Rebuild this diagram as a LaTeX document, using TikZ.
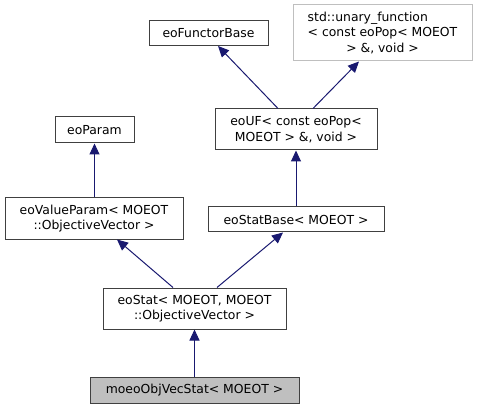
\documentclass[tikz,border=0pt]{standalone}
\usepackage{fontspec}
\setmainfont{DejaVu Sans}
\usetikzlibrary{arrows.meta}
\definecolor{edgec}{HTML}{191970}
\definecolor{boxc}{HTML}{404040}
\definecolor{greyc}{HTML}{BFBFBF}
\tikzset{
  cls/.style={draw=boxc, line width=1pt, fill=white, inner sep=0pt, align=center,
    font=\fontsize{12.4}{15.5}\selectfont},
  inh/.style={draw=edgec, line width=1pt, -{Triangle[length=11pt,width=10pt]}}
}
\begin{document}
\begin{tikzpicture}[x=1pt,y=-1pt]
\useasboundingbox (0,0) rectangle (477,409);
\node[cls, minimum width=119pt, minimum height=25pt] (fb) at (208.5,33) {eoFunctorBase};
\node[cls, draw=greyc, minimum width=179pt, minimum height=56pt] (uf1) at (382.5,33)
  {\rlap{std::unary\_function}\phantom{< const eoPop< MOEOT}\\< const eoPop< MOEOT\\> \&, void >};
\node[cls, minimum width=79pt, minimum height=26pt] (par) at (94.5,130) {eoParam};
\node[cls, minimum width=162pt, minimum height=41pt] (uf) at (296,129.5) {eoUF< const eoPop<\\MOEOT > \&, void >};
\node[cls, minimum width=178pt, minimum height=41pt] (vp) at (94,218.5) {eoValueParam< MOEOT\\::ObjectiveVector >};
\node[cls, minimum width=176pt, minimum height=25pt] (sb) at (296,219.5) {eoStatBase< MOEOT >};
\node[cls, minimum width=183pt, minimum height=41pt] (st) at (194.5,308.5) {eoStat< MOEOT, MOEOT\\::ObjectiveVector >};
\node[cls, fill=greyc, minimum width=209pt, minimum height=26pt] (mo) at (194.5,390) {moeoObjVecStat< MOEOT >};
\draw[inh] ([xshift=-18pt]uf.north) -- ([xshift=9.5pt]fb.south);
\draw[inh] ([xshift=17pt]uf.north) -- ([xshift=-23.5pt]uf1.south);
\draw[inh] (sb.north) -- (uf.south);
\draw[inh] (vp.north -| par.south) -- (par.south);
\draw[inh] ([xshift=-21.5pt]st.north) -- ([xshift=23pt]vp.south);
\draw[inh] ([xshift=22.5pt]st.north) -- ([xshift=-13pt]sb.south);
\draw[inh] (mo.north) -- (st.south);
\end{tikzpicture}
\end{document}
